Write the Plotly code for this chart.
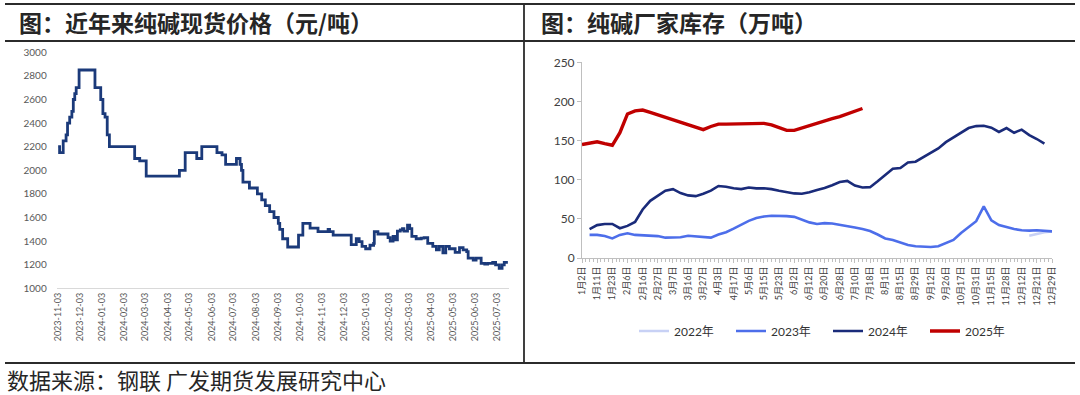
import plotly.graph_objects as go

# ---------------- Left chart: soda ash spot price (yuan/ton) ----------------
price_dates = [
    "2023-11-03", "2023-11-05", "2023-11-10", "2023-11-14", "2023-11-16", "2023-11-19",
    "2023-11-22", "2023-11-24", "2023-11-26", "2023-11-28", "2023-12-02", "2023-12-24",
    "2024-01-01", "2024-01-04", "2024-01-07", "2024-01-10", "2024-01-13", "2024-02-17",
    "2024-02-24", "2024-03-04", "2024-04-19", "2024-04-27", "2024-05-13", "2024-05-20",
    "2024-06-10", "2024-06-17", "2024-06-22", "2024-07-07", "2024-07-12", "2024-07-14",
    "2024-07-16", "2024-07-25", "2024-08-05", "2024-08-11", "2024-08-16", "2024-08-22",
    "2024-08-28", "2024-09-03", "2024-09-05", "2024-09-09", "2024-09-16", "2024-10-01",
    "2024-10-07", "2024-10-17", "2024-10-28", "2024-11-11", "2024-11-13", "2024-11-18",
    "2024-12-13", "2024-12-20", "2024-12-24", "2024-12-28", "2025-01-02", "2025-01-08",
    "2025-01-13", "2025-01-14", "2025-01-19", "2025-02-02", "2025-02-05", "2025-02-09",
    "2025-02-12", "2025-02-15", "2025-02-19", "2025-02-22", "2025-02-24", "2025-03-01",
    "2025-03-04", "2025-03-07", "2025-03-13", "2025-03-20", "2025-03-24", "2025-03-29",
    "2025-04-05", "2025-04-10", "2025-04-14", "2025-04-19", "2025-04-23", "2025-04-28",
    "2025-05-06", "2025-05-12", "2025-05-17", "2025-05-22", "2025-05-24", "2025-05-31",
    "2025-06-04", "2025-06-11", "2025-06-16", "2025-06-20", "2025-06-27", "2025-07-01",
    "2025-07-06", "2025-07-10", "2025-07-13", "2025-07-18",
]
price_values = [
    2200, 2150, 2250, 2300, 2400, 2450,
    2500, 2600, 2650, 2700, 2850, 2700,
    2600, 2480, 2450, 2300, 2200, 2100,
    2080, 1950, 2000, 2150, 2100, 2200,
    2150, 2130, 2050, 2100, 2050, 2000,
    1900, 1850, 1800, 1750, 1700, 1650,
    1600, 1550, 1500, 1420, 1350, 1450,
    1550, 1510, 1480, 1500, 1480, 1450,
    1370, 1420, 1395, 1355, 1335, 1365,
    1380, 1480, 1460, 1430, 1400, 1440,
    1410, 1485, 1495, 1505, 1485, 1535,
    1505, 1440, 1420, 1425, 1430, 1380,
    1355, 1325, 1355, 1300, 1355, 1335,
    1305, 1345, 1325, 1310, 1255, 1240,
    1255, 1212, 1205, 1212, 1220, 1198,
    1170, 1198, 1220, 1220,
]
price_tick_dates = [
    "2023-11-03", "2023-12-03", "2024-01-03", "2024-02-03", "2024-03-03", "2024-04-03",
    "2024-05-03", "2024-06-03", "2024-07-03", "2024-08-03", "2024-09-03", "2024-10-03",
    "2024-11-03", "2024-12-03", "2025-01-03", "2025-02-03", "2025-03-03", "2025-04-03",
    "2025-05-03", "2025-06-03", "2025-07-03",
]

# ---------------- Right chart: factory inventory (10k tons) ----------------
inv_tick_labels = [
    "1月2日", "1月11日", "1月23日", "2月6日", "2月16日", "2月27日", "3月7日", "3月16日",
    "3月27日", "4月3日", "4月17日", "5月6日", "5月15日", "5月23日", "6月2日", "6月12日",
    "6月20日", "6月28日", "7月10日", "7月18日", "8月1日", "8月15日", "8月29日", "9月12日",
    "9月26日", "10月17日", "10月31日", "11月15日", "11月28日", "12月12日", "12月21日", "12月29日",
]
inv_positions = [i * 0.5 for i in range(63)]
N = None
inv_2022 = [N] * 59 + [28.5, 31, 33, 34]
inv_2023 = [N, 29.5, 29.5, 28, 25, 29.5, 31.5, 29.5, 29, 29, 28, 26, 26, 26.5, 28.5, 27.5,
            27, 26, 30, 33, 37.5, 43, 47.5, 51, 53, 54, 54, 53.5, 52.5, 49, 45.5, 43.5,
            44.5, 44, 42.5, 40.5, 39, 37, 34.5, 30, 25, 23, 19.5, 16.5, 15, 14.5, 14, 15,
            19, 23, 32, 40, 47, 66, 48, 42, 39, 37, 35.5, 35, 35.5, 34.5, 34]
inv_2024 = [N, 37, 42, 43.5, 43.5, 38, 41, 46, 62, 73, 80, 86, 88, 83, 80, 79,
            82, 86, 92, 91, 89, 88, 90, 89, 89, 88, 86, 84, 82.5, 82, 84, 87,
            89.5, 93, 97, 98.5, 92.5, 90, 90.5, 98, 106, 114, 115, 122, 123, 129, 135,
            140, 148, 154, 161, 166, 168.5, 169, 166.5, 161, 166, 160, 164, 157, 152, 146, N]
inv_2025 = [145, 147, 148.5, 146, 144, 160, 184, 188, 189, 186, 183, 179, 176, 174, 171, 168,
            164, 168, 171, 171, 171, 171, 171, 171, 172, 170, 167, 163, 163, 166, 170, 172.5,
            175, 178, 180.5, 184, 187, 191] + [N] * 25
inv_series = [("2022年", inv_2022, "#C8D1F5"), ("2023年", inv_2023, "#4D6EEA"),
              ("2024年", inv_2024, "#1A2B7A"), ("2025年", inv_2025, "#C00000")]

W, H = 1080, 395
def px_x(p): return p / W
def px_y(p): return 1 - p / H

TICKFONT = "Lato, Noto Sans CJK SC, sans-serif"
CJK = "Noto Sans CJK SC, sans-serif"

fig = go.Figure()
fig.add_trace(go.Scatter(x=price_dates, y=price_values, mode="lines", line_shape="hv",
                         line=dict(color="#1B3A7A", width=2.8), showlegend=False,
                         xaxis="x", yaxis="y"))
for name, vals, col in inv_series:
    fig.add_trace(go.Scatter(x=inv_positions, y=vals, mode="lines", name=name,
                             line=dict(color=col, width=3.4 if name == "2025年" else 2.6),
                             connectgaps=False, xaxis="x2", yaxis="y2"))

fig.update_layout(
    width=W, height=H, margin=dict(l=0, r=0, t=0, b=0, autoexpand=False),
    paper_bgcolor="white", plot_bgcolor="white",
    xaxis=dict(domain=[px_x(56.7), px_x(509.3)], type="date",
               range=["2023-11-01", "2025-07-20"], tickmode="array",
               tickvals=price_tick_dates, ticktext=price_tick_dates, tickangle=-90,
               tickfont=dict(family=TICKFONT, size=9, color="#595959"),
               showgrid=False, showline=True, linecolor="#D9D9D9", linewidth=1,
               ticks="", zeroline=False, anchor="y", automargin=False),
    yaxis=dict(domain=[px_y(288.3), px_y(52.3)], range=[1000, 3000], dtick=200,
               tickfont=dict(family=TICKFONT, size=10, color="#595959"),
               showgrid=False, showline=False, ticks="", zeroline=False, anchor="x",
               automargin=False, ticklabelstandoff=9),
    xaxis2=dict(domain=[px_x(582), px_x(1052)], range=[0, 31], tickmode="array",
                tickvals=list(range(len(inv_tick_labels))), ticktext=inv_tick_labels,
                tickangle=-90, tickfont=dict(family=TICKFONT, size=9, color="#404040"),
                showgrid=False, showline=True, linecolor="#BFBFBF", linewidth=1,
                ticks="outside", ticklen=4, tickcolor="#BFBFBF",
                minor=dict(dtick=0.25, ticks="outside", ticklen=3, tickcolor="#BFBFBF"),
                zeroline=False, anchor="y2", automargin=False),
    yaxis2=dict(domain=[px_y(258), px_y(62.3)], range=[0, 250], dtick=50,
                tickfont=dict(family=TICKFONT, size=12, color="#404040"),
                showgrid=False, showline=True, linecolor="#BFBFBF", linewidth=1,
                ticks="outside", ticklen=4, tickcolor="#BFBFBF", zeroline=False,
                anchor="x2", automargin=False),
    legend=dict(orientation="h", x=px_x(634), xanchor="left", y=px_y(331), yanchor="middle",
                font=dict(family=TICKFONT, size=12, color="#333333"),
                entrywidth=52, entrywidthmode="pixels", bgcolor="rgba(0,0,0,0)",
                itemwidth=30),
)

line_style = dict(color="#2B2B2B", width=1.8)
shapes = [
    dict(type="line", xref="paper", yref="paper", x0=px_x(5), x1=px_x(1075),
         y0=px_y(4), y1=px_y(4), line=line_style),
    dict(type="line", xref="paper", yref="paper", x0=px_x(5), x1=px_x(1075),
         y0=px_y(41), y1=px_y(41), line=line_style),
    dict(type="line", xref="paper", yref="paper", x0=px_x(5), x1=px_x(1075),
         y0=px_y(363), y1=px_y(363), line=line_style),
    dict(type="line", xref="paper", yref="paper", x0=px_x(524), x1=px_x(524),
         y0=px_y(4), y1=px_y(363), line=line_style),
]
fig.update_layout(shapes=shapes)

annotations = [
    dict(text="<b>图：近年来纯碱现货价格（元/吨）</b>", x=px_x(17), y=px_y(22.5),
         xanchor="left", yanchor="middle", showarrow=False,
         font=dict(family=CJK, size=23, color="#262626")),
    dict(text="<b>图：纯碱厂家库存（万吨）</b>", x=px_x(539), y=px_y(22.5),
         xanchor="left", yanchor="middle", showarrow=False,
         font=dict(family=CJK, size=23, color="#262626")),
    dict(text="数据来源：钢联 广发期货发展研究中心", x=px_x(6), y=px_y(379),
         xanchor="left", yanchor="middle", showarrow=False, borderpad=0,
         font=dict(family=CJK, size=22, color="#262626")),
]
for a in annotations:
    a.update(xref="paper", yref="paper")
fig.update_layout(annotations=annotations)

fig.write_html("out.html", config={"displayModeBar": False},
               post_script="document.body.style.margin='0';")
